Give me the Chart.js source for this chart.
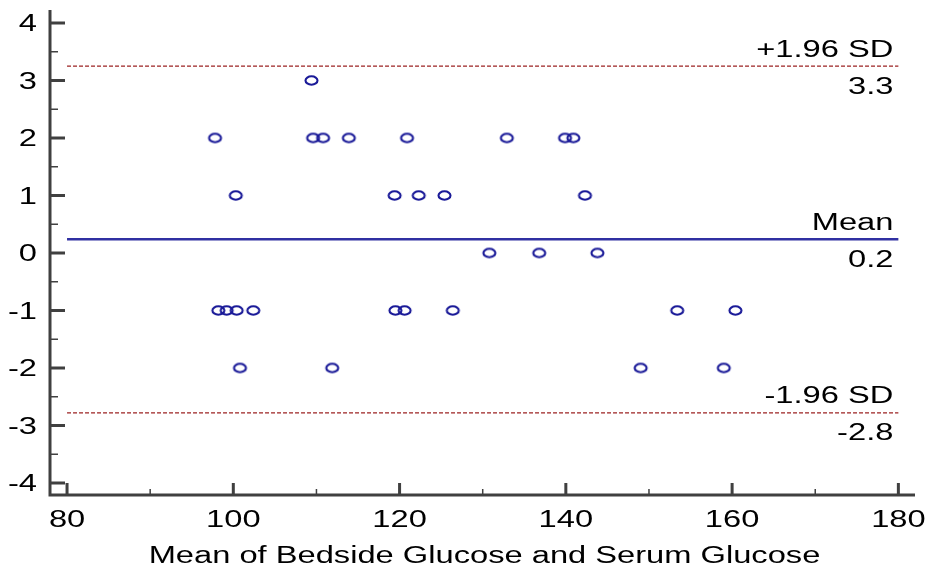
<!DOCTYPE html>
<html>
<head>
<meta charset="utf-8">
<script src="https://cdn.jsdelivr.net/npm/chart.js@4/dist/chart.umd.min.js"></script>
<style>
  body { margin: 0; background: #fff; }
  canvas { display: block; }
</style>
</head>
<body>
<canvas id="chart" width="930" height="568"></canvas>
<script>
// mean of the two measurements (x) and their difference (y)
const meanValues = [
  109.4,
  97.8, 109.6, 110.8, 113.9, 120.9, 132.9, 139.9, 140.9,
  100.3, 119.4, 122.3, 125.4, 142.3,
  130.8, 136.8, 143.8,
  98.2, 99.2, 100.4, 102.4, 119.5, 120.6, 126.4, 153.4, 160.4,
  100.8, 111.9, 149.0, 159.0
];
const diffValues = [
  3,
  2, 2, 2, 2, 2, 2, 2, 2,
  1, 1, 1, 1, 1,
  0, 0, 0,
  -1, -1, -1, -1, -1, -1, -1, -1, -1,
  -2, -2, -2, -2
];

const xTicks = [80, 100, 120, 140, 160, 180];
const xMinorTicks = [90, 110, 130, 150, 170];
const yTicks = [-4, -3, -2, -1, 0, 1, 2, 3, 4];
const yMinorTicks = [-3.5, -2.5, -1.5, -0.5, 0.5, 1.5, 2.5, 3.5];
const xTitle = 'Mean of Bedside Glucose and Serum Glucose';

// reference lines: mean difference and limits of agreement
const lineRange = [80, 180];
const lineNames = ['+1.96 SD', 'Mean', '-1.96 SD'];
const lineValues = [3.25, 0.24, -2.78];
const lineTexts = ['3.3', '0.2', '-2.8'];

const FONT = '23px "Liberation Sans", Arial, sans-serif';
const TEXT_STRETCH = 1.42; // the original text is drawn wide
const AXIS_COLOR = '#404040';

// slightly flattened open circle, like the original marker
function makeMarker() {
  const c = document.createElement('canvas');
  c.width = 17; c.height = 13;
  const g = c.getContext('2d');
  g.strokeStyle = '#1a1a98';
  g.lineWidth = 2.1;
  g.beginPath();
  g.ellipse(8.5, 6.5, 6, 4.2, 0, 0, Math.PI * 2);
  g.stroke();
  return c;
}

const points = meanValues.map((x, i) => ({ x, y: diffValues[i] }));

const refStyles = [
  { color: '#9c2222', width: 1.4, dash: [4, 2] },
  { color: '#3030a2', width: 2.6, dash: [] },
  { color: '#9c2222', width: 1.4, dash: [4, 2] }
];
const refDatasets = lineValues.map((v, i) => ({
  type: 'line',
  data: lineRange.map(x => ({ x, y: v })),
  borderColor: refStyles[i].color,
  borderWidth: refStyles[i].width,
  borderDash: refStyles[i].dash,
  pointRadius: 0,
  fill: false
}));

function wideText(ctx, text, x, y, align) {
  ctx.save();
  ctx.translate(x, y);
  ctx.scale(TEXT_STRETCH, 1);
  ctx.textAlign = align;
  ctx.textBaseline = 'alphabetic';
  ctx.fillText(text, 0, 0);
  ctx.restore();
}

const axesPlugin = {
  id: 'axes',
  afterDraw(chart) {
    const { ctx, chartArea: a, scales: { x, y } } = chart;
    ctx.save();
    ctx.strokeStyle = AXIS_COLOR;
    ctx.lineCap = 'butt';

    // axis lines
    ctx.lineWidth = 3;
    ctx.beginPath();
    ctx.moveTo(a.left, a.top);
    ctx.lineTo(a.left, a.bottom);
    ctx.lineTo(a.right, a.bottom);
    ctx.stroke();

    // major ticks (pointing into the plot)
    ctx.beginPath();
    yTicks.forEach(v => {
      const py = y.getPixelForValue(v);
      ctx.moveTo(a.left, py); ctx.lineTo(a.left + 15, py);
    });
    xTicks.forEach(v => {
      const px = x.getPixelForValue(v);
      ctx.moveTo(px, a.bottom); ctx.lineTo(px, a.bottom - 12);
    });
    ctx.stroke();

    // minor ticks
    ctx.lineWidth = 1.5;
    ctx.beginPath();
    yMinorTicks.forEach(v => {
      const py = y.getPixelForValue(v);
      ctx.moveTo(a.left, py); ctx.lineTo(a.left + 8, py);
    });
    xMinorTicks.forEach(v => {
      const px = x.getPixelForValue(v);
      ctx.moveTo(px, a.bottom); ctx.lineTo(px, a.bottom - 6);
    });
    ctx.stroke();

    // tick labels and axis title
    ctx.fillStyle = '#000';
    ctx.font = FONT;
    yTicks.forEach(v => wideText(ctx, String(v), a.left - 13, y.getPixelForValue(v) + 8.3, 'right'));
    xTicks.forEach(v => wideText(ctx, String(v), x.getPixelForValue(v), a.bottom + 32, 'center'));
    wideText(ctx, xTitle, (a.left + a.right) / 2 + 2, a.bottom + 68, 'center');

    // labels for the reference lines
    const tx = x.getPixelForValue(lineRange[1]) - 5;
    lineValues.forEach((v, i) => {
      const py = y.getPixelForValue(v);
      wideText(ctx, lineNames[i], tx, py - 9.5, 'right');
      wideText(ctx, lineTexts[i], tx, py + 27.5, 'right');
    });
    ctx.restore();
  }
};

new Chart(document.getElementById('chart'), {
  type: 'scatter',
  data: {
    datasets: [
      {
        data: points,
        pointStyle: makeMarker(),
        pointRadius: 6
      },
      ...refDatasets
    ]
  },
  options: {
    responsive: false,
    animation: false,
    layout: { padding: { top: 10, right: 15, left: 0, bottom: 0 } },
    plugins: { legend: { display: false }, tooltip: { enabled: false } },
    scales: {
      x: {
        type: 'linear',
        min: 77.95,
        max: 182,
        afterBuildTicks: s => { s.ticks = xTicks.map(v => ({ value: v })); },
        afterFit: s => { s.height = 73; },
        grid: { display: false, drawTicks: false },
        border: { display: false },
        ticks: { display: false }
      },
      y: {
        type: 'linear',
        min: -4.209,
        max: 4.226,
        afterBuildTicks: s => { s.ticks = yTicks.map(v => ({ value: v })); },
        afterFit: s => { s.width = 50; },
        grid: { display: false, drawTicks: false },
        border: { display: false },
        ticks: { display: false }
      }
    }
  },
  plugins: [axesPlugin]
});
</script>
</body>
</html>
